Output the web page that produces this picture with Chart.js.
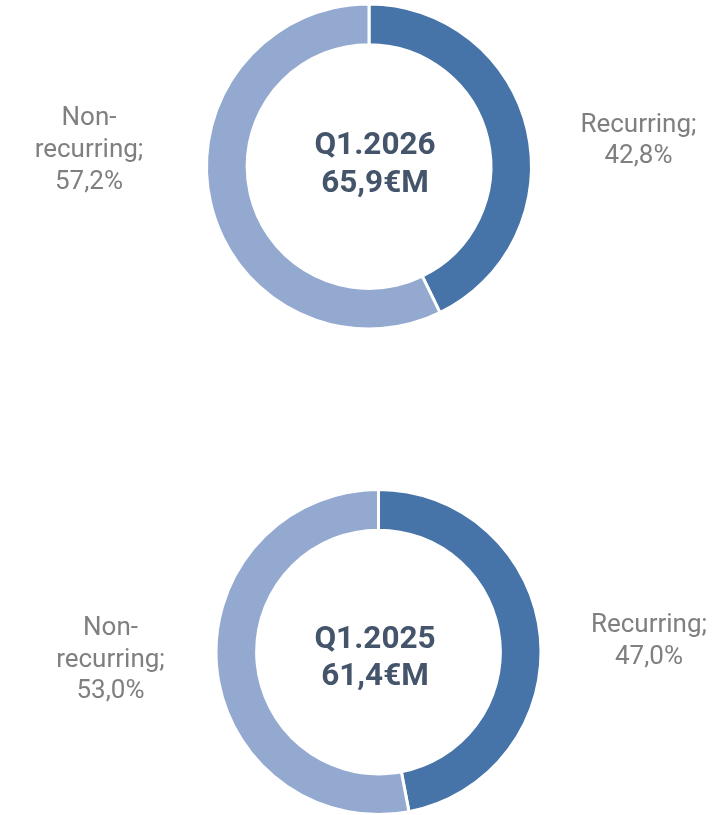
<!DOCTYPE html>
<html>
<head>
<meta charset="utf-8">
<script src="https://cdn.jsdelivr.net/npm/chart.js@4/dist/chart.umd.min.js"></script>
<style>
  html, body { margin: 0; padding: 0; background: #ffffff; }
  body { width: 725px; height: 815px; position: relative; overflow: hidden; }
  .box { position: absolute; left: 0; width: 725px; }
</style>
</head>
<body>
<div class="box" id="box1" style="top:0px;height:340px;"><canvas id="c1"></canvas></div>
<div class="box" id="box2" style="top:477px;height:340px;"><canvas id="c2"></canvas></div>
<script>
const categories = ['Recurring', 'Non-recurring'];
const periods = ['Q1.2026', 'Q1.2025'];
const totals = [65.9, 61.4];
const sharesQ12026 = [42.8, 57.2];
const sharesQ12025 = [47.0, 53.0];
const colors = ['#4673A8', '#94A9D0'];

const fmt = v => v.toFixed(1).replace('.', ',');

function labelLines(cat, v) {
  const parts = cat.includes('-') ? [cat.split('-')[0] + '-', cat.split('-').slice(1).join('-') + ';'] : [cat + ';'];
  return parts.concat([fmt(v) + '%']);
}

const textPlugin = {
  id: 'textPlugin',
  afterDraw(chart, args, opts) {
    const ctx = chart.ctx;
    const meta = chart.getDatasetMeta(0);
    const arc = meta.data[0];
    const cx = arc.x, cy = arc.y;
    ctx.save();
    ctx.textAlign = 'center';
    ctx.textBaseline = 'alphabetic';
    // centre
    ctx.fillStyle = '#44546A';
    ctx.font = 'bold 31.5px Roboto';
    ctx.fillText(opts.period, cx + opts.centerDx, cy + opts.centerDy[0]);
    ctx.fillText(fmt(opts.total) + '€M', cx + opts.centerDx, cy + opts.centerDy[1]);
    // slice labels
    ctx.fillStyle = '#7F7F7F';
    ctx.font = '26px Roboto';
    const values = chart.data.datasets[0].data;
    chart.data.labels.forEach((cat, i) => {
      const lines = labelLines(cat, values[i]);
      const pos = opts.labelPos[i];
      lines.forEach((ln, j) => {
        ctx.fillText(ln, cx + pos.dx, cy + pos.dy + j * pos.lh);
      });
    });
    ctx.restore();
  }
};

function makeChart(id, data, period, total, padding, centerDx, centerDy, labelPos) {
  return new Chart(document.getElementById(id), {
    type: 'doughnut',
    data: {
      labels: categories,
      datasets: [{
        data: data,
        backgroundColor: colors,
        borderColor: '#ffffff',
        borderWidth: 3,
        hoverOffset: 0,
        offset: 0
      }]
    },
    options: {
      responsive: true,
      maintainAspectRatio: false,
      animation: false,
      cutout: '75%',
      layout: { padding: padding },
      plugins: {
        legend: { display: false },
        tooltip: { enabled: false },
        textPlugin: { period, total, centerDx, centerDy, labelPos }
      }
    },
    plugins: [textPlugin]
  });
}

makeChart('c1', sharesQ12026, periods[0], totals[0],
  { left: 205, right: 192, top: 2.5, bottom: 9.5 },
  6, [-13, 25.5],
  [ { dx: 269.5, dy: -35, lh: 31.5 }, { dx: -280, dy: -41.5, lh: 32 } ]);

makeChart('c2', sharesQ12025, periods[1], totals[1],
  { left: 214.5, right: 182.5, top: 11, bottom: 1 },
  -3.5, [-4, 33],
  [ { dx: 270.5, dy: -20, lh: 31.5 }, { dx: -268, dy: -17, lh: 31.5 } ]);
</script>
</body>
</html>
